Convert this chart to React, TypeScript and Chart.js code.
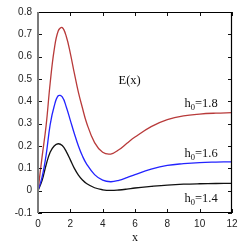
import React, { useEffect, useRef } from "react";
import { Chart, registerables } from "chart.js";

Chart.register(...registerables);

const xs = [0, 0.25, 0.5, 0.75, 1, 1.25, 1.5, 1.75, 2, 2.25, 2.5, 2.75, 3, 3.5, 4, 4.5, 5, 5.5, 6, 7, 8, 9, 10, 11, 12];
const h18 = [0, 0.15, 0.29, 0.48, 0.63, 0.715, 0.73, 0.69, 0.615, 0.525, 0.44, 0.37, 0.305, 0.215, 0.172, 0.164, 0.183, 0.212, 0.24, 0.287, 0.318, 0.335, 0.343, 0.347, 0.349];
const h16 = [0, 0.06, 0.158, 0.295, 0.378, 0.425, 0.42, 0.375, 0.315, 0.255, 0.2, 0.155, 0.12, 0.072, 0.047, 0.04, 0.046, 0.058, 0.072, 0.096, 0.113, 0.121, 0.126, 0.128, 0.129];
const h14 = [0, 0.045, 0.115, 0.172, 0.2, 0.21, 0.202, 0.175, 0.138, 0.1, 0.07, 0.048, 0.032, 0.013, 0.004, 0.001, 0.003, 0.007, 0.012, 0.019, 0.025, 0.029, 0.031, 0.032, 0.033];
const xTicks = [0, 2, 4, 6, 8, 10, 12];
const yTicks = [-0.1, 0, 0.1, 0.2, 0.3, 0.4, 0.5, 0.6, 0.7, 0.8];
const seriesLabels = ["1.8", "1.6", "1.4"];
const seriesColors = ["#b83a3a", "#2323ff", "#111111"];

const decor = {
  id: "decor",
  afterDraw(chart: any) {
    const ctx = chart.ctx;
    const { left, right, top, bottom } = chart.chartArea;
    const xs_ = chart.scales.x;
    const ys_ = chart.scales.y;
    ctx.save();
    // inward ticks
    ctx.strokeStyle = "#111";
    ctx.lineWidth = 1;
    ctx.beginPath();
    xTicks.forEach((t) => {
      const px = Math.round(xs_.getPixelForValue(t)) + 0.5;
      ctx.moveTo(px, bottom);
      ctx.lineTo(px, bottom - 4);
      ctx.moveTo(px, top);
      ctx.lineTo(px, top + 4);
    });
    yTicks.forEach((t) => {
      const py = Math.round(ys_.getPixelForValue(t)) + 0.5;
      ctx.moveTo(left, py);
      ctx.lineTo(left + 4, py);
      ctx.moveTo(right, py);
      ctx.lineTo(right - 4, py);
    });
    ctx.stroke();
    // frame
    ctx.strokeStyle = "#000";
    ctx.lineWidth = 1.2;
    ctx.beginPath();
    ctx.moveTo(left, top + 0.5);
    ctx.lineTo(right, top + 0.5);
    ctx.moveTo(right - 0.5, top);
    ctx.lineTo(right - 0.5, bottom);
    ctx.moveTo(left, bottom - 0.5);
    ctx.lineTo(right, bottom - 0.5);
    ctx.stroke();
    ctx.strokeStyle = "#7a7a7a";
    ctx.lineWidth = 2;
    ctx.beginPath();
    ctx.moveTo(left, top);
    ctx.lineTo(left, bottom);
    ctx.stroke();

    // texts
    ctx.fillStyle = "#111";
    ctx.textBaseline = "alphabetic";
    ctx.font = "12.5px 'Liberation Serif'";
    ctx.textAlign = "left";
    ctx.fillText("E(x)", 118.5, 83.5);
    const h0 = (x: number, y: number, v: string) => {
      ctx.font = "12.5px 'Liberation Serif'";
      ctx.fillText("h", x, y);
      const w1 = ctx.measureText("h").width;
      ctx.font = "8.5px 'Liberation Serif'";
      ctx.fillText("0", x + w1, y + 3);
      const w2 = ctx.measureText("0").width;
      ctx.font = "12.5px 'Liberation Serif'";
      ctx.fillText("=" + v, x + w1 + w2, y);
    };
    h0(184.5, 106.5, seriesLabels[0]);
    h0(184.5, 156.5, seriesLabels[1]);
    h0(184.5, 201.5, seriesLabels[2]);
    ctx.textAlign = "center";
    ctx.font = "12px 'Liberation Serif'";
    ctx.fillText("x", 135, 241);
    ctx.restore();
  },
};

export default function App() {
  const ref = useRef<HTMLCanvasElement | null>(null);
  useEffect(() => {
    document.body.style.margin = "0";
    const vals = [h18, h16, h14];
    const chart = new Chart(ref.current as HTMLCanvasElement, {
      type: "line",
      data: {
        datasets: vals.map((v, i) => ({
          label: "h0=" + seriesLabels[i],
          data: xs.map((x, j) => ({ x, y: v[j] })),
          borderColor: seriesColors[i],
          borderWidth: 1.3,
          pointRadius: 0,
          tension: 0.4,
          fill: false,
        })),
      },
      options: {
        animation: false,
        responsive: false,
        events: [],
        layout: { padding: { left: 0, right: 18, top: 11, bottom: 0 } },
        plugins: { legend: { display: false }, tooltip: { enabled: false } },
        scales: {
          x: {
            type: "linear",
            min: 0,
            max: 12,
            afterBuildTicks: (s: any) => {
              s.ticks = xTicks.map((v) => ({ value: v }));
            },
            afterFit: (s: any) => {
              s.height = 32;
            },
            grid: { display: false, drawTicks: false },
            border: { display: false },
            ticks: {
              padding: 5,
              color: "#222",
              font: { family: "'Liberation Sans'", size: 10 },
              maxRotation: 0,
              callback: (v: any) => String(v),
            },
          },
          y: {
            type: "linear",
            min: -0.1,
            max: 0.8,
            afterBuildTicks: (s: any) => {
              s.ticks = yTicks.map((v) => ({ value: v }));
            },
            afterFit: (s: any) => {
              s.width = 38;
            },
            grid: { display: false, drawTicks: false },
            border: { display: false },
            ticks: {
              padding: 6,
              color: "#222",
              font: { family: "'Liberation Sans'", size: 10 },
              callback: (v: any) => String(Math.round(v * 10) / 10),
            },
          },
        },
      },
      plugins: [decor],
    });
    return () => chart.destroy();
  }, []);
  return (
    <div style={{ width: 250, height: 245 }}>
      <canvas ref={ref} width={250} height={245} style={{ display: "block" }} />
    </div>
  );
}
